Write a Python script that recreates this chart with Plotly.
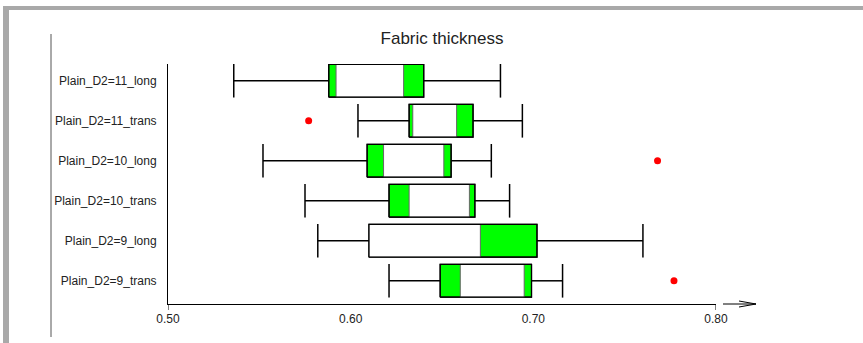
import plotly.graph_objects as go

# ---- data ----
categories = ["Plain_D2=11_long", "Plain_D2=11_trans", "Plain_D2=10_long",
              "Plain_D2=10_trans", "Plain_D2=9_long", "Plain_D2=9_trans"]
whisker_low = [0.536, 0.604, 0.552, 0.575, 0.582, 0.621]
q1 =          [0.588, 0.632, 0.609, 0.621, 0.610, 0.649]
inner_low =   [0.592, 0.634, 0.618, 0.632, 0.610, 0.660]
inner_high =  [0.629, 0.658, 0.651, 0.665, 0.671, 0.695]
q3 =          [0.640, 0.667, 0.655, 0.668, 0.702, 0.699]
whisker_high = [0.682, 0.694, 0.677, 0.687, 0.760, 0.716]
outlier_cat = ["Plain_D2=11_trans", "Plain_D2=10_long", "Plain_D2=9_trans"]
outlier_val = [0.577, 0.768, 0.777]
x_ticks = [0.50, 0.60, 0.70, 0.80]
x_tick_labels = ["0.50", "0.60", "0.70", "0.80"]

n = len(categories)
ypos = {c: n - 1 - i for i, c in enumerate(categories)}
ys = [ypos[c] for c in categories]
BOX_H = 0.41
CAP_H = 0.42


def rects(lefts, rights):
    xs, yy = [], []
    for y, a, b in zip(ys, lefts, rights):
        xs += [a, b, b, a, a, None]
        yy += [y - BOX_H, y - BOX_H, y + BOX_H, y + BOX_H, y - BOX_H, None]
    return xs, yy


fig = go.Figure()

gx, gy = rects(q1, q3)
fig.add_trace(go.Scatter(x=gx, y=gy, mode="lines", fill="toself", fillcolor="#00ff00",
                         line=dict(color="black", width=1.2), hoverinfo="skip", showlegend=False))
ix, iy = rects(inner_low, inner_high)
fig.add_trace(go.Scatter(x=ix, y=iy, mode="lines", fill="toself", fillcolor="white",
                         line=dict(color="#666666", width=1), hoverinfo="skip", showlegend=False))
fig.add_trace(go.Scatter(x=gx, y=gy, mode="lines",
                         line=dict(color="black", width=1.2), hoverinfo="skip", showlegend=False))

# whiskers and caps
wx, wy = [], []
for y, lo, a, b, hi in zip(ys, whisker_low, q1, q3, whisker_high):
    wx += [lo, a, None, b, hi, None, lo, lo, None, hi, hi, None]
    wy += [y, y, None, y, y, None, y - CAP_H, y + CAP_H, None, y - CAP_H, y + CAP_H, None]
fig.add_trace(go.Scatter(x=wx, y=wy, mode="lines", line=dict(color="black", width=1.5),
                         hoverinfo="skip", showlegend=False))

# outliers
fig.add_trace(go.Scatter(x=outlier_val, y=[ypos[c] for c in outlier_cat], mode="markers",
                         marker=dict(color="red", size=7), hoverinfo="skip", showlegend=False))

L, R, T, B = 168, 716, 64, 304
W, H = 863, 343


def px(x):
    return (x - L) / (R - L)


def py(y):
    return (B - y) / (B - T)


shapes = [
    # gray frame
    dict(type="rect", xref="paper", yref="paper", x0=px(3), x1=px(863), y0=py(6), y1=py(10),
         fillcolor="#a9a9a9", line=dict(width=0), layer="below"),
    dict(type="rect", xref="paper", yref="paper", x0=px(3), x1=px(9), y0=py(6), y1=py(343),
         fillcolor="#a9a9a9", line=dict(width=0), layer="below"),
    # thin vertical line
    dict(type="line", xref="paper", yref="paper", x0=px(51), x1=px(51), y0=py(34), y1=py(337),
         line=dict(color="#555555", width=1)),
    # end ticks
    dict(type="line", xref="x", yref="paper", x0=0.50, x1=0.50, y0=0, y1=py(310),
         line=dict(color="black", width=1)),
    dict(type="line", xref="x", yref="paper", x0=0.80, x1=0.80, y0=0, y1=py(310),
         line=dict(color="black", width=1)),
    # arrow
    dict(type="line", xref="paper", yref="paper", x0=px(723), x1=px(756), y0=0, y1=0,
         line=dict(color="black", width=1)),
    dict(type="path", xref="paper", yref="paper",
         path=f"M {px(739)},{py(301)} L {px(756)},0 L {px(739)},{py(307)}",
         line=dict(color="black", width=1)),
]

fig.update_layout(
    width=W, height=H, margin=dict(l=L, r=W - R, t=T, b=H - B),
    paper_bgcolor="white", plot_bgcolor="white",
    font=dict(family="Liberation Sans, Arial, sans-serif", size=12, color="#222222"),
    title=dict(text="Fabric thickness", x=0.5, xref="paper", y=1 - 38 / H, yanchor="middle",
               xanchor="center", font=dict(size=17, color="#222222")),
    shapes=shapes,
    hovermode=False,
    xaxis=dict(range=[0.50, 0.80], tickvals=x_ticks, ticktext=x_tick_labels,
               showgrid=False, zeroline=False, showline=True, linecolor="black", linewidth=1,
               ticks="", ticklabelstandoff=4, fixedrange=True),
    yaxis=dict(range=[-0.58, n - 0.58], tickvals=ys, ticktext=categories,
               showgrid=False, zeroline=False, showline=True, linecolor="black", linewidth=1,
               ticks="", ticklabelstandoff=8, fixedrange=True),
)

fig.write_html("out.html", config={"displayModeBar": False},
               post_script="document.body.style.margin='0';")
